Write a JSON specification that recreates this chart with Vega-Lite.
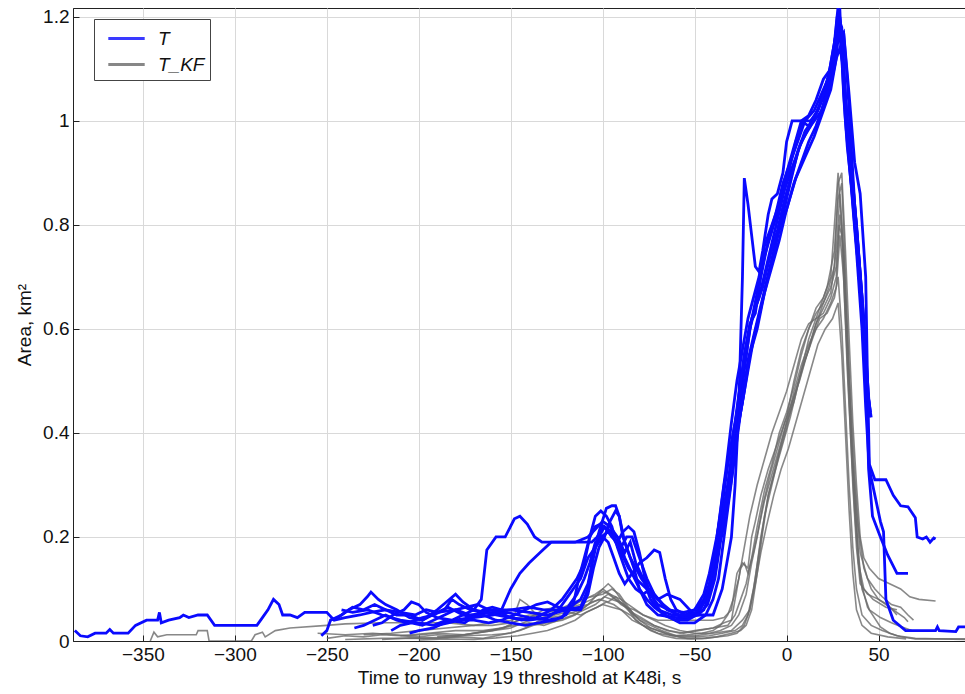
{
"$schema": "https://vega.github.io/schema/vega-lite/v6.json",
"width": 892, "height": 633,
"autosize": "none",
"padding": {"left": 73, "top": 8, "right": 0, "bottom": 53},
"background": "white",
"config": {
 "font": "Liberation Sans",
 "view": {"stroke": "#222", "strokeWidth": 1},
 "axis": {"labelFontSize": 19, "titleFontSize": 19, "labelColor": "#111", "titleColor": "#111", "titleFontWeight": "normal", "gridColor": "#d9d9d9", "gridWidth": 1, "domainColor": "#222", "tickColor": "#222", "tickSize": -6}
},
"datasets": {
"blue": [
{"s":1,"t":-387,"a":0.02},{"s":1,"t":-384,"a":0.01},{"s":1,"t":-380,"a":0.008},{"s":1,"t":-376,"a":0.015},{"s":1,"t":-370,"a":0.015},{"s":1,"t":-368,"a":0.022},{"s":1,"t":-366,"a":0.015},{"s":1,"t":-358,"a":0.015},{"s":1,"t":-354,"a":0.03},{"s":1,"t":-348,"a":0.04},{"s":1,"t":-342,"a":0.04},{"s":1,"t":-341,"a":0.055},{"s":1,"t":-340,"a":0.035},{"s":1,"t":-336,"a":0.04},{"s":1,"t":-330,"a":0.045},{"s":1,"t":-328,"a":0.05},{"s":1,"t":-325,"a":0.045},{"s":1,"t":-320,"a":0.05},{"s":1,"t":-315,"a":0.05},{"s":1,"t":-311,"a":0.03},{"s":1,"t":-288,"a":0.03},{"s":1,"t":-285,"a":0.045},{"s":1,"t":-282,"a":0.06},{"s":1,"t":-279,"a":0.08},{"s":1,"t":-276,"a":0.07},{"s":1,"t":-274,"a":0.05},{"s":1,"t":-270,"a":0.05},{"s":1,"t":-266,"a":0.045},{"s":1,"t":-262,"a":0.055},{"s":1,"t":-250,"a":0.055},{"s":1,"t":-246,"a":0.04},{"s":1,"t":-240,"a":0.045},{"s":1,"t":-232,"a":0.05},{"s":1,"t":-226,"a":0.055},{"s":1,"t":-218,"a":0.06},{"s":1,"t":-212,"a":0.05},{"s":1,"t":-205,"a":0.05},{"s":1,"t":-198,"a":0.04},{"s":1,"t":-190,"a":0.055},{"s":1,"t":-180,"a":0.06},{"s":1,"t":-172,"a":0.05},{"s":1,"t":-160,"a":0.055},{"s":1,"t":-150,"a":0.06},{"s":1,"t":-140,"a":0.055},{"s":1,"t":-130,"a":0.05},{"s":1,"t":-120,"a":0.06},{"s":1,"t":-112,"a":0.065},{"s":1,"t":-108,"a":0.1},{"s":1,"t":-105,"a":0.17},{"s":1,"t":-102,"a":0.2},{"s":1,"t":-99,"a":0.22},{"s":1,"t":-95,"a":0.21},{"s":1,"t":-92,"a":0.2},{"s":1,"t":-88,"a":0.16},{"s":1,"t":-84,"a":0.13},{"s":1,"t":-80,"a":0.1},{"s":1,"t":-76,"a":0.07},{"s":1,"t":-70,"a":0.05},{"s":1,"t":-60,"a":0.045},{"s":1,"t":-52,"a":0.045},{"s":1,"t":-46,"a":0.07},{"s":1,"t":-42,"a":0.1},{"s":1,"t":-38,"a":0.16},{"s":1,"t":-35,"a":0.22},{"s":1,"t":-32,"a":0.3},{"s":1,"t":-29,"a":0.37},{"s":1,"t":-26,"a":0.43},{"s":1,"t":-23,"a":0.52},{"s":1,"t":-20,"a":0.6},{"s":1,"t":-16,"a":0.67},{"s":1,"t":-12,"a":0.74},{"s":1,"t":-7,"a":0.8},{"s":1,"t":-2,"a":0.86},{"s":1,"t":3,"a":0.91},{"s":1,"t":8,"a":0.96},{"s":1,"t":13,"a":0.99},{"s":1,"t":18,"a":1.03},{"s":1,"t":23,"a":1.09},{"s":1,"t":26,"a":1.15},{"s":1,"t":28,"a":1.22},{"s":1,"t":29.5,"a":1.18},{"s":1,"t":31,"a":1.05},{"s":1,"t":33,"a":0.95},{"s":1,"t":36,"a":0.85},{"s":1,"t":39,"a":0.72},{"s":1,"t":42,"a":0.58},{"s":1,"t":44,"a":0.48},{"s":1,"t":46,"a":0.43},
{"s":2,"t":-253,"a":0.01},{"s":2,"t":-250,"a":0.02},{"s":2,"t":-248,"a":0.04},{"s":2,"t":-244,"a":0.045},{"s":2,"t":-238,"a":0.06},{"s":2,"t":-232,"a":0.07},{"s":2,"t":-228,"a":0.085},{"s":2,"t":-226,"a":0.094},{"s":2,"t":-222,"a":0.08},{"s":2,"t":-218,"a":0.07},{"s":2,"t":-212,"a":0.06},{"s":2,"t":-205,"a":0.045},{"s":2,"t":-198,"a":0.04},{"s":2,"t":-190,"a":0.06},{"s":2,"t":-185,"a":0.075},{"s":2,"t":-180,"a":0.09},{"s":2,"t":-176,"a":0.075},{"s":2,"t":-170,"a":0.06},{"s":2,"t":-166,"a":0.08},{"s":2,"t":-163,"a":0.175},{"s":2,"t":-158,"a":0.2},{"s":2,"t":-153,"a":0.2},{"s":2,"t":-148,"a":0.235},{"s":2,"t":-145,"a":0.24},{"s":2,"t":-141,"a":0.225},{"s":2,"t":-137,"a":0.2},{"s":2,"t":-133,"a":0.19},{"s":2,"t":-125,"a":0.19},{"s":2,"t":-115,"a":0.19},{"s":2,"t":-108,"a":0.2},{"s":2,"t":-104,"a":0.215},{"s":2,"t":-100,"a":0.23},{"s":2,"t":-96,"a":0.22},{"s":2,"t":-92,"a":0.2},{"s":2,"t":-88,"a":0.17},{"s":2,"t":-85,"a":0.19},{"s":2,"t":-82,"a":0.15},{"s":2,"t":-78,"a":0.12},{"s":2,"t":-74,"a":0.08},{"s":2,"t":-70,"a":0.06},{"s":2,"t":-62,"a":0.05},{"s":2,"t":-55,"a":0.05},{"s":2,"t":-50,"a":0.06},{"s":2,"t":-45,"a":0.09},{"s":2,"t":-42,"a":0.13},{"s":2,"t":-38,"a":0.2},{"s":2,"t":-35,"a":0.26},{"s":2,"t":-32,"a":0.34},{"s":2,"t":-29,"a":0.4},{"s":2,"t":-26,"a":0.46},{"s":2,"t":-23,"a":0.55},{"s":2,"t":-20,"a":0.61},{"s":2,"t":-17,"a":0.63},{"s":2,"t":-14,"a":0.7},{"s":2,"t":-10,"a":0.77},{"s":2,"t":-6,"a":0.82},{"s":2,"t":-2,"a":0.88},{"s":2,"t":2,"a":0.92},{"s":2,"t":6,"a":0.96},{"s":2,"t":10,"a":1.0},{"s":2,"t":15,"a":1.02},{"s":2,"t":20,"a":1.06},{"s":2,"t":25,"a":1.1},{"s":2,"t":28,"a":1.17},{"s":2,"t":31,"a":1.17},{"s":2,"t":34,"a":1.05},{"s":2,"t":37,"a":0.92},{"s":2,"t":40,"a":0.86},{"s":2,"t":43,"a":0.7},{"s":2,"t":44,"a":0.5},{"s":2,"t":45,"a":0.34},{"s":2,"t":48,"a":0.31},{"s":2,"t":54,"a":0.31},{"s":2,"t":58,"a":0.28},{"s":2,"t":62,"a":0.26},{"s":2,"t":66,"a":0.258},{"s":2,"t":70,"a":0.237},{"s":2,"t":71,"a":0.2},{"s":2,"t":74,"a":0.196},{"s":2,"t":76,"a":0.2},{"s":2,"t":78,"a":0.19},{"s":2,"t":80,"a":0.198},{"s":2,"t":81,"a":0.196},
{"s":3,"t":-242,"a":0.06},{"s":3,"t":-236,"a":0.055},{"s":3,"t":-228,"a":0.06},{"s":3,"t":-220,"a":0.05},{"s":3,"t":-210,"a":0.04},{"s":3,"t":-200,"a":0.035},{"s":3,"t":-192,"a":0.03},{"s":3,"t":-185,"a":0.04},{"s":3,"t":-175,"a":0.035},{"s":3,"t":-165,"a":0.06},{"s":3,"t":-160,"a":0.065},{"s":3,"t":-155,"a":0.06},{"s":3,"t":-150,"a":0.1},{"s":3,"t":-145,"a":0.13},{"s":3,"t":-140,"a":0.15},{"s":3,"t":-134,"a":0.17},{"s":3,"t":-128,"a":0.19},{"s":3,"t":-120,"a":0.19},{"s":3,"t":-112,"a":0.19},{"s":3,"t":-106,"a":0.19},{"s":3,"t":-103,"a":0.2},{"s":3,"t":-100,"a":0.22},{"s":3,"t":-96,"a":0.21},{"s":3,"t":-90,"a":0.17},{"s":3,"t":-86,"a":0.14},{"s":3,"t":-82,"a":0.12},{"s":3,"t":-76,"a":0.1},{"s":3,"t":-70,"a":0.08},{"s":3,"t":-65,"a":0.09},{"s":3,"t":-58,"a":0.08},{"s":3,"t":-50,"a":0.05},{"s":3,"t":-40,"a":0.05},{"s":3,"t":-35,"a":0.1},{"s":3,"t":-30,"a":0.2},{"s":3,"t":-28,"a":0.3},{"s":3,"t":-26,"a":0.45},{"s":3,"t":-24,"a":0.7},{"s":3,"t":-23,"a":0.89},{"s":3,"t":-21,"a":0.84},{"s":3,"t":-19,"a":0.78},{"s":3,"t":-17,"a":0.72},{"s":3,"t":-15,"a":0.71},{"s":3,"t":-13,"a":0.75},{"s":3,"t":-10,"a":0.82},{"s":3,"t":-8,"a":0.85},{"s":3,"t":-5,"a":0.86},{"s":3,"t":-2,"a":0.9},{"s":3,"t":0,"a":0.96},{"s":3,"t":3,"a":1.0},{"s":3,"t":8,"a":1.0},{"s":3,"t":12,"a":0.99},{"s":3,"t":17,"a":1.02},{"s":3,"t":22,"a":1.07},{"s":3,"t":26,"a":1.15},{"s":3,"t":28,"a":1.19},{"s":3,"t":30,"a":1.13},{"s":3,"t":33,"a":1.0},{"s":3,"t":36,"a":0.87},{"s":3,"t":39,"a":0.74},{"s":3,"t":42,"a":0.6},{"s":3,"t":44,"a":0.45},{"s":3,"t":45,"a":0.43},
{"s":4,"t":-248,"a":0.04},{"s":4,"t":-242,"a":0.05},{"s":4,"t":-236,"a":0.065},{"s":4,"t":-230,"a":0.06},{"s":4,"t":-224,"a":0.07},{"s":4,"t":-218,"a":0.06},{"s":4,"t":-210,"a":0.055},{"s":4,"t":-202,"a":0.05},{"s":4,"t":-196,"a":0.06},{"s":4,"t":-190,"a":0.055},{"s":4,"t":-184,"a":0.065},{"s":4,"t":-176,"a":0.05},{"s":4,"t":-170,"a":0.045},{"s":4,"t":-160,"a":0.05},{"s":4,"t":-152,"a":0.055},{"s":4,"t":-146,"a":0.05},{"s":4,"t":-140,"a":0.045},{"s":4,"t":-130,"a":0.04},{"s":4,"t":-122,"a":0.045},{"s":4,"t":-118,"a":0.07},{"s":4,"t":-114,"a":0.09},{"s":4,"t":-110,"a":0.12},{"s":4,"t":-107,"a":0.15},{"s":4,"t":-104,"a":0.19},{"s":4,"t":-101,"a":0.2},{"s":4,"t":-97,"a":0.21},{"s":4,"t":-94,"a":0.2},{"s":4,"t":-90,"a":0.18},{"s":4,"t":-87,"a":0.2},{"s":4,"t":-84,"a":0.2},{"s":4,"t":-80,"a":0.16},{"s":4,"t":-76,"a":0.12},{"s":4,"t":-72,"a":0.09},{"s":4,"t":-67,"a":0.07},{"s":4,"t":-60,"a":0.05},{"s":4,"t":-55,"a":0.045},{"s":4,"t":-48,"a":0.05},{"s":4,"t":-43,"a":0.07},{"s":4,"t":-39,"a":0.12},{"s":4,"t":-36,"a":0.19},{"s":4,"t":-33,"a":0.24},{"s":4,"t":-30,"a":0.31},{"s":4,"t":-27,"a":0.4},{"s":4,"t":-24,"a":0.46},{"s":4,"t":-21,"a":0.54},{"s":4,"t":-17,"a":0.6},{"s":4,"t":-13,"a":0.66},{"s":4,"t":-9,"a":0.72},{"s":4,"t":-5,"a":0.78},{"s":4,"t":0,"a":0.83},{"s":4,"t":5,"a":0.89},{"s":4,"t":10,"a":0.93},{"s":4,"t":15,"a":0.97},{"s":4,"t":20,"a":1.02},{"s":4,"t":24,"a":1.06},{"s":4,"t":27,"a":1.12},{"s":4,"t":29,"a":1.2},{"s":4,"t":31,"a":1.1},{"s":4,"t":33,"a":0.98},{"s":4,"t":35,"a":0.9},{"s":4,"t":38,"a":0.8},{"s":4,"t":41,"a":0.66},{"s":4,"t":43,"a":0.55},{"s":4,"t":44.6,"a":0.33},{"s":4,"t":46.7,"a":0.24},{"s":4,"t":51,"a":0.2},{"s":4,"t":55,"a":0.165},{"s":4,"t":60,"a":0.13},{"s":4,"t":66,"a":0.13},
{"s":5,"t":-235,"a":0.025},{"s":5,"t":-230,"a":0.03},{"s":5,"t":-224,"a":0.04},{"s":5,"t":-218,"a":0.05},{"s":5,"t":-212,"a":0.04},{"s":5,"t":-206,"a":0.035},{"s":5,"t":-198,"a":0.045},{"s":5,"t":-192,"a":0.05},{"s":5,"t":-186,"a":0.06},{"s":5,"t":-182,"a":0.08},{"s":5,"t":-178,"a":0.07},{"s":5,"t":-172,"a":0.06},{"s":5,"t":-166,"a":0.055},{"s":5,"t":-160,"a":0.06},{"s":5,"t":-150,"a":0.06},{"s":5,"t":-140,"a":0.065},{"s":5,"t":-132,"a":0.06},{"s":5,"t":-125,"a":0.06},{"s":5,"t":-118,"a":0.065},{"s":5,"t":-112,"a":0.08},{"s":5,"t":-108,"a":0.11},{"s":5,"t":-105,"a":0.16},{"s":5,"t":-102,"a":0.21},{"s":5,"t":-98,"a":0.255},{"s":5,"t":-95,"a":0.26},{"s":5,"t":-93,"a":0.26},{"s":5,"t":-91,"a":0.24},{"s":5,"t":-89,"a":0.2},{"s":5,"t":-86,"a":0.17},{"s":5,"t":-83,"a":0.14},{"s":5,"t":-80,"a":0.1},{"s":5,"t":-76,"a":0.08},{"s":5,"t":-72,"a":0.065},{"s":5,"t":-66,"a":0.05},{"s":5,"t":-58,"a":0.035},{"s":5,"t":-50,"a":0.035},{"s":5,"t":-44,"a":0.05},{"s":5,"t":-40,"a":0.08},{"s":5,"t":-37,"a":0.12},{"s":5,"t":-34,"a":0.2},{"s":5,"t":-31,"a":0.28},{"s":5,"t":-28,"a":0.36},{"s":5,"t":-25,"a":0.44},{"s":5,"t":-22,"a":0.5},{"s":5,"t":-18,"a":0.58},{"s":5,"t":-14,"a":0.64},{"s":5,"t":-10,"a":0.7},{"s":5,"t":-6,"a":0.76},{"s":5,"t":-2,"a":0.82},{"s":5,"t":2,"a":0.88},{"s":5,"t":6,"a":0.94},{"s":5,"t":10,"a":0.98},{"s":5,"t":14,"a":1.0},{"s":5,"t":18,"a":1.03},{"s":5,"t":22,"a":1.06},{"s":5,"t":25,"a":1.1},{"s":5,"t":27.5,"a":1.2},{"s":5,"t":29,"a":1.21},{"s":5,"t":30,"a":1.12},{"s":5,"t":32,"a":1.0},{"s":5,"t":35,"a":0.88},{"s":5,"t":38,"a":0.75},{"s":5,"t":41,"a":0.6},{"s":5,"t":43,"a":0.45},{"s":5,"t":45,"a":0.33},{"s":5,"t":48,"a":0.28},{"s":5,"t":51,"a":0.23},{"s":5,"t":52.7,"a":0.21},{"s":5,"t":54,"a":0.08},{"s":5,"t":58,"a":0.04},{"s":5,"t":64.7,"a":0.02},{"s":5,"t":81,"a":0.02},{"s":5,"t":82,"a":0.027},{"s":5,"t":83,"a":0.02},{"s":5,"t":92,"a":0.018},{"s":5,"t":93.5,"a":0.027},{"s":5,"t":97,"a":0.027},
{"s":6,"t":-225,"a":0.03},{"s":6,"t":-220,"a":0.035},{"s":6,"t":-214,"a":0.05},{"s":6,"t":-208,"a":0.06},{"s":6,"t":-204,"a":0.075},{"s":6,"t":-200,"a":0.07},{"s":6,"t":-196,"a":0.055},{"s":6,"t":-190,"a":0.045},{"s":6,"t":-182,"a":0.04},{"s":6,"t":-176,"a":0.05},{"s":6,"t":-170,"a":0.06},{"s":6,"t":-164,"a":0.055},{"s":6,"t":-158,"a":0.05},{"s":6,"t":-150,"a":0.045},{"s":6,"t":-144,"a":0.04},{"s":6,"t":-136,"a":0.045},{"s":6,"t":-128,"a":0.06},{"s":6,"t":-122,"a":0.08},{"s":6,"t":-118,"a":0.1},{"s":6,"t":-114,"a":0.12},{"s":6,"t":-110,"a":0.15},{"s":6,"t":-107,"a":0.2},{"s":6,"t":-104,"a":0.22},{"s":6,"t":-101,"a":0.225},{"s":6,"t":-98,"a":0.215},{"s":6,"t":-95,"a":0.2},{"s":6,"t":-92,"a":0.19},{"s":6,"t":-89,"a":0.21},{"s":6,"t":-86,"a":0.22},{"s":6,"t":-83,"a":0.21},{"s":6,"t":-80,"a":0.17},{"s":6,"t":-77,"a":0.12},{"s":6,"t":-74,"a":0.09},{"s":6,"t":-70,"a":0.07},{"s":6,"t":-64,"a":0.06},{"s":6,"t":-56,"a":0.055},{"s":6,"t":-50,"a":0.06},{"s":6,"t":-45,"a":0.08},{"s":6,"t":-42,"a":0.11},{"s":6,"t":-39,"a":0.17},{"s":6,"t":-36,"a":0.25},{"s":6,"t":-33,"a":0.33},{"s":6,"t":-30,"a":0.42},{"s":6,"t":-27,"a":0.5},{"s":6,"t":-24,"a":0.56},{"s":6,"t":-21,"a":0.62},{"s":6,"t":-18,"a":0.66},{"s":6,"t":-15,"a":0.7},{"s":6,"t":-12,"a":0.76},{"s":6,"t":-8,"a":0.8},{"s":6,"t":-4,"a":0.84},{"s":6,"t":0,"a":0.9},{"s":6,"t":4,"a":0.95},{"s":6,"t":8,"a":1.0},{"s":6,"t":12,"a":1.01},{"s":6,"t":16,"a":1.04},{"s":6,"t":20,"a":1.08},{"s":6,"t":24,"a":1.1},{"s":6,"t":27,"a":1.15},{"s":6,"t":29,"a":1.16},{"s":6,"t":31,"a":1.17},{"s":6,"t":33,"a":1.08},{"s":6,"t":35,"a":0.96},{"s":6,"t":37,"a":0.84},{"s":6,"t":40,"a":0.7},{"s":6,"t":42,"a":0.58},{"s":6,"t":44,"a":0.48},{"s":6,"t":45.6,"a":0.44},
{"s":7,"t":-215,"a":0.02},{"s":7,"t":-210,"a":0.03},{"s":7,"t":-204,"a":0.035},{"s":7,"t":-198,"a":0.03},{"s":7,"t":-192,"a":0.04},{"s":7,"t":-186,"a":0.05},{"s":7,"t":-180,"a":0.06},{"s":7,"t":-174,"a":0.065},{"s":7,"t":-168,"a":0.07},{"s":7,"t":-162,"a":0.06},{"s":7,"t":-156,"a":0.055},{"s":7,"t":-150,"a":0.045},{"s":7,"t":-140,"a":0.04},{"s":7,"t":-130,"a":0.045},{"s":7,"t":-124,"a":0.06},{"s":7,"t":-120,"a":0.08},{"s":7,"t":-116,"a":0.1},{"s":7,"t":-112,"a":0.12},{"s":7,"t":-108,"a":0.16},{"s":7,"t":-104,"a":0.18},{"s":7,"t":-100,"a":0.2},{"s":7,"t":-97,"a":0.19},{"s":7,"t":-94,"a":0.16},{"s":7,"t":-91,"a":0.13},{"s":7,"t":-88,"a":0.11},{"s":7,"t":-84,"a":0.13},{"s":7,"t":-80,"a":0.15},{"s":7,"t":-76,"a":0.16},{"s":7,"t":-72,"a":0.175},{"s":7,"t":-69,"a":0.17},{"s":7,"t":-66,"a":0.12},{"s":7,"t":-63,"a":0.08},{"s":7,"t":-60,"a":0.06},{"s":7,"t":-55,"a":0.05},{"s":7,"t":-48,"a":0.055},{"s":7,"t":-43,"a":0.09},{"s":7,"t":-40,"a":0.14},{"s":7,"t":-37,"a":0.22},{"s":7,"t":-34,"a":0.3},{"s":7,"t":-31,"a":0.36},{"s":7,"t":-28,"a":0.42},{"s":7,"t":-25,"a":0.5},{"s":7,"t":-22,"a":0.55},{"s":7,"t":-19,"a":0.62},{"s":7,"t":-15,"a":0.66},{"s":7,"t":-11,"a":0.72},{"s":7,"t":-7,"a":0.78},{"s":7,"t":-3,"a":0.84},{"s":7,"t":1,"a":0.9},{"s":7,"t":5,"a":0.96},{"s":7,"t":9,"a":1.0},{"s":7,"t":13,"a":1.0},{"s":7,"t":17,"a":1.02},{"s":7,"t":21,"a":1.06},{"s":7,"t":25,"a":1.12},{"s":7,"t":28,"a":1.2},{"s":7,"t":30,"a":1.18},{"s":7,"t":32,"a":1.04},{"s":7,"t":35,"a":0.92},{"s":7,"t":38,"a":0.8},{"s":7,"t":41,"a":0.66},{"s":7,"t":43,"a":0.55},{"s":7,"t":45,"a":0.45},
{"s":8,"t":-205,"a":0.015},{"s":8,"t":-200,"a":0.02},{"s":8,"t":-192,"a":0.025},{"s":8,"t":-186,"a":0.035},{"s":8,"t":-180,"a":0.04},{"s":8,"t":-172,"a":0.045},{"s":8,"t":-165,"a":0.05},{"s":8,"t":-158,"a":0.04},{"s":8,"t":-150,"a":0.035},{"s":8,"t":-142,"a":0.03},{"s":8,"t":-135,"a":0.035},{"s":8,"t":-126,"a":0.04},{"s":8,"t":-120,"a":0.05},{"s":8,"t":-116,"a":0.07},{"s":8,"t":-113,"a":0.12},{"s":8,"t":-110,"a":0.16},{"s":8,"t":-107,"a":0.2},{"s":8,"t":-104,"a":0.24},{"s":8,"t":-101,"a":0.25},{"s":8,"t":-98,"a":0.24},{"s":8,"t":-95,"a":0.22},{"s":8,"t":-92,"a":0.18},{"s":8,"t":-89,"a":0.15},{"s":8,"t":-86,"a":0.12},{"s":8,"t":-82,"a":0.1},{"s":8,"t":-78,"a":0.09},{"s":8,"t":-74,"a":0.1},{"s":8,"t":-70,"a":0.08},{"s":8,"t":-65,"a":0.06},{"s":8,"t":-58,"a":0.05},{"s":8,"t":-52,"a":0.05},{"s":8,"t":-47,"a":0.06},{"s":8,"t":-44,"a":0.08},{"s":8,"t":-41,"a":0.12},{"s":8,"t":-38,"a":0.18},{"s":8,"t":-35,"a":0.24},{"s":8,"t":-32,"a":0.3},{"s":8,"t":-29,"a":0.38},{"s":8,"t":-26,"a":0.47},{"s":8,"t":-23,"a":0.55},{"s":8,"t":-20,"a":0.6},{"s":8,"t":-17,"a":0.64},{"s":8,"t":-13,"a":0.68},{"s":8,"t":-9,"a":0.74},{"s":8,"t":-5,"a":0.79},{"s":8,"t":-1,"a":0.85},{"s":8,"t":3,"a":0.9},{"s":8,"t":7,"a":0.95},{"s":8,"t":11,"a":0.98},{"s":8,"t":15,"a":1.0},{"s":8,"t":19,"a":1.02},{"s":8,"t":23,"a":1.07},{"s":8,"t":26,"a":1.12},{"s":8,"t":28,"a":1.17},{"s":8,"t":30,"a":1.15},{"s":8,"t":32,"a":1.02},{"s":8,"t":34,"a":0.93},{"s":8,"t":37,"a":0.8},{"s":8,"t":40,"a":0.68},{"s":8,"t":42,"a":0.56},{"s":8,"t":44,"a":0.46},{"s":8,"t":45,"a":0.43},
{"s":9,"t":-190,"a":0.03},{"s":9,"t":-184,"a":0.035},{"s":9,"t":-178,"a":0.04},{"s":9,"t":-170,"a":0.04},{"s":9,"t":-162,"a":0.035},{"s":9,"t":-155,"a":0.04},{"s":9,"t":-148,"a":0.05},{"s":9,"t":-142,"a":0.06},{"s":9,"t":-136,"a":0.07},{"s":9,"t":-130,"a":0.075},{"s":9,"t":-124,"a":0.065},{"s":9,"t":-118,"a":0.06},{"s":9,"t":-112,"a":0.06},{"s":9,"t":-108,"a":0.09},{"s":9,"t":-105,"a":0.14},{"s":9,"t":-102,"a":0.18},{"s":9,"t":-99,"a":0.2},{"s":9,"t":-96,"a":0.23},{"s":9,"t":-93,"a":0.25},{"s":9,"t":-91,"a":0.24},{"s":9,"t":-88,"a":0.19},{"s":9,"t":-85,"a":0.16},{"s":9,"t":-82,"a":0.14},{"s":9,"t":-79,"a":0.12},{"s":9,"t":-75,"a":0.1},{"s":9,"t":-71,"a":0.07},{"s":9,"t":-67,"a":0.05},{"s":9,"t":-60,"a":0.04},{"s":9,"t":-54,"a":0.04},{"s":9,"t":-49,"a":0.05},{"s":9,"t":-45,"a":0.06},{"s":9,"t":-41,"a":0.1},{"s":9,"t":-38,"a":0.15},{"s":9,"t":-35,"a":0.22},{"s":9,"t":-32,"a":0.28},{"s":9,"t":-29,"a":0.35},{"s":9,"t":-26,"a":0.42},{"s":9,"t":-23,"a":0.48},{"s":9,"t":-20,"a":0.55},{"s":9,"t":-16,"a":0.6},{"s":9,"t":-12,"a":0.67},{"s":9,"t":-8,"a":0.72},{"s":9,"t":-4,"a":0.77},{"s":9,"t":0,"a":0.83},{"s":9,"t":4,"a":0.88},{"s":9,"t":8,"a":0.92},{"s":9,"t":12,"a":0.96},{"s":9,"t":16,"a":0.99},{"s":9,"t":20,"a":1.03},{"s":9,"t":24,"a":1.07},{"s":9,"t":27,"a":1.12},{"s":9,"t":29,"a":1.14},{"s":9,"t":31,"a":1.1},{"s":9,"t":33,"a":1.0},{"s":9,"t":36,"a":0.88},{"s":9,"t":39,"a":0.75},{"s":9,"t":42,"a":0.62},{"s":9,"t":44,"a":0.5},{"s":9,"t":45,"a":0.44}
],
"gray": [
{"s":1,"t":-346,"a":0},{"s":1,"t":-344,"a":0.017},{"s":1,"t":-342,"a":0.008},{"s":1,"t":-337,"a":0.012},{"s":1,"t":-321,"a":0.012},{"s":1,"t":-320,"a":0.02},{"s":1,"t":-315,"a":0.02},{"s":1,"t":-314,"a":0},{"s":1,"t":-291,"a":0},{"s":1,"t":-289,"a":0.012},{"s":1,"t":-285,"a":0.017},{"s":1,"t":-283.5,"a":0.008},{"s":1,"t":-278,"a":0.02},{"s":1,"t":-270,"a":0.025},{"s":1,"t":-250,"a":0.03},{"s":1,"t":-240,"a":0.033},{"s":1,"t":-220,"a":0.035},{"s":1,"t":-200,"a":0.035},{"s":1,"t":-185,"a":0.035},{"s":1,"t":-170,"a":0.03},{"s":1,"t":-160,"a":0.035},{"s":1,"t":-150,"a":0.04},{"s":1,"t":-140,"a":0.05},{"s":1,"t":-130,"a":0.05},{"s":1,"t":-120,"a":0.06},{"s":1,"t":-110,"a":0.08},{"s":1,"t":-104,"a":0.09},{"s":1,"t":-100,"a":0.1},{"s":1,"t":-96,"a":0.09},{"s":1,"t":-90,"a":0.08},{"s":1,"t":-84,"a":0.065},{"s":1,"t":-78,"a":0.05},{"s":1,"t":-70,"a":0.04},{"s":1,"t":-60,"a":0.04},{"s":1,"t":-50,"a":0.04},{"s":1,"t":-40,"a":0.04},{"s":1,"t":-34,"a":0.045},{"s":1,"t":-30,"a":0.06},{"s":1,"t":-27,"a":0.13},{"s":1,"t":-24,"a":0.15},{"s":1,"t":-21,"a":0.14},{"s":1,"t":-19,"a":0.2},{"s":1,"t":-17,"a":0.23},{"s":1,"t":-14,"a":0.28},{"s":1,"t":-10,"a":0.33},{"s":1,"t":-5,"a":0.38},{"s":1,"t":0,"a":0.43},{"s":1,"t":4,"a":0.5},{"s":1,"t":8,"a":0.56},{"s":1,"t":12,"a":0.6},{"s":1,"t":16,"a":0.64},{"s":1,"t":20,"a":0.66},{"s":1,"t":24,"a":0.7},{"s":1,"t":28,"a":0.9},{"s":1,"t":30,"a":0.8},{"s":1,"t":32,"a":0.65},{"s":1,"t":34,"a":0.5},{"s":1,"t":36,"a":0.35},{"s":1,"t":38,"a":0.25},{"s":1,"t":40,"a":0.17},{"s":1,"t":44,"a":0.12},{"s":1,"t":48,"a":0.1},{"s":1,"t":52,"a":0.085},{"s":1,"t":57,"a":0.07},{"s":1,"t":62,"a":0.065},{"s":1,"t":66,"a":0.05},{"s":1,"t":69,"a":0.04},
{"s":2,"t":-255,"a":0.015},{"s":2,"t":-240,"a":0.012},{"s":2,"t":-225,"a":0.015},{"s":2,"t":-205,"a":0.01},{"s":2,"t":-190,"a":0.015},{"s":2,"t":-175,"a":0.012},{"s":2,"t":-160,"a":0.02},{"s":2,"t":-150,"a":0.025},{"s":2,"t":-140,"a":0.04},{"s":2,"t":-130,"a":0.045},{"s":2,"t":-122,"a":0.06},{"s":2,"t":-112,"a":0.07},{"s":2,"t":-106,"a":0.08},{"s":2,"t":-100,"a":0.095},{"s":2,"t":-96,"a":0.09},{"s":2,"t":-90,"a":0.07},{"s":2,"t":-85,"a":0.06},{"s":2,"t":-80,"a":0.04},{"s":2,"t":-74,"a":0.03},{"s":2,"t":-68,"a":0.02},{"s":2,"t":-60,"a":0.01},{"s":2,"t":-50,"a":0.01},{"s":2,"t":-40,"a":0.015},{"s":2,"t":-30,"a":0.02},{"s":2,"t":-24,"a":0.04},{"s":2,"t":-20,"a":0.06},{"s":2,"t":-17,"a":0.12},{"s":2,"t":-14,"a":0.2},{"s":2,"t":-10,"a":0.28},{"s":2,"t":-5,"a":0.35},{"s":2,"t":0,"a":0.42},{"s":2,"t":4,"a":0.46},{"s":2,"t":8,"a":0.52},{"s":2,"t":12,"a":0.58},{"s":2,"t":17,"a":0.63},{"s":2,"t":22,"a":0.68},{"s":2,"t":26,"a":0.75},{"s":2,"t":28,"a":0.85},{"s":2,"t":30,"a":0.88},{"s":2,"t":32,"a":0.7},{"s":2,"t":34,"a":0.5},{"s":2,"t":36,"a":0.33},{"s":2,"t":38,"a":0.22},{"s":2,"t":40,"a":0.12},{"s":2,"t":44,"a":0.065},{"s":2,"t":51,"a":0.027},{"s":2,"t":56,"a":0.015},{"s":2,"t":62,"a":0.008},{"s":2,"t":70,"a":0.004},{"s":2,"t":97,"a":0.004},
{"s":3,"t":-250,"a":0.005},{"s":3,"t":-240,"a":0.01},{"s":3,"t":-230,"a":0.008},{"s":3,"t":-220,"a":0.012},{"s":3,"t":-210,"a":0.01},{"s":3,"t":-200,"a":0.008},{"s":3,"t":-190,"a":0.012},{"s":3,"t":-180,"a":0.01},{"s":3,"t":-170,"a":0.015},{"s":3,"t":-160,"a":0.02},{"s":3,"t":-150,"a":0.03},{"s":3,"t":-145,"a":0.08},{"s":3,"t":-141,"a":0.07},{"s":3,"t":-136,"a":0.05},{"s":3,"t":-130,"a":0.055},{"s":3,"t":-124,"a":0.06},{"s":3,"t":-118,"a":0.07},{"s":3,"t":-112,"a":0.08},{"s":3,"t":-106,"a":0.085},{"s":3,"t":-100,"a":0.09},{"s":3,"t":-95,"a":0.1},{"s":3,"t":-91,"a":0.09},{"s":3,"t":-87,"a":0.07},{"s":3,"t":-83,"a":0.05},{"s":3,"t":-78,"a":0.04},{"s":3,"t":-72,"a":0.03},{"s":3,"t":-65,"a":0.02},{"s":3,"t":-58,"a":0.015},{"s":3,"t":-50,"a":0.02},{"s":3,"t":-40,"a":0.025},{"s":3,"t":-32,"a":0.03},{"s":3,"t":-28,"a":0.05},{"s":3,"t":-25,"a":0.08},{"s":3,"t":-22,"a":0.11},{"s":3,"t":-19,"a":0.16},{"s":3,"t":-16,"a":0.22},{"s":3,"t":-12,"a":0.29},{"s":3,"t":-8,"a":0.34},{"s":3,"t":-4,"a":0.4},{"s":3,"t":0,"a":0.44},{"s":3,"t":4,"a":0.49},{"s":3,"t":8,"a":0.55},{"s":3,"t":12,"a":0.6},{"s":3,"t":16,"a":0.63},{"s":3,"t":20,"a":0.65},{"s":3,"t":24,"a":0.68},{"s":3,"t":27,"a":0.72},{"s":3,"t":28.5,"a":0.8},{"s":3,"t":30,"a":0.78},{"s":3,"t":32,"a":0.62},{"s":3,"t":34,"a":0.46},{"s":3,"t":36,"a":0.3},{"s":3,"t":38,"a":0.18},{"s":3,"t":40,"a":0.11},{"s":3,"t":44,"a":0.09},{"s":3,"t":50,"a":0.08},{"s":3,"t":58,"a":0.06},{"s":3,"t":64,"a":0.045},{"s":3,"t":66,"a":0.037},
{"s":4,"t":-240,"a":0.003},{"s":4,"t":-220,"a":0.005},{"s":4,"t":-200,"a":0.005},{"s":4,"t":-180,"a":0.008},{"s":4,"t":-165,"a":0.005},{"s":4,"t":-155,"a":0.012},{"s":4,"t":-145,"a":0.02},{"s":4,"t":-138,"a":0.03},{"s":4,"t":-130,"a":0.035},{"s":4,"t":-122,"a":0.04},{"s":4,"t":-115,"a":0.05},{"s":4,"t":-108,"a":0.07},{"s":4,"t":-102,"a":0.08},{"s":4,"t":-97,"a":0.075},{"s":4,"t":-93,"a":0.085},{"s":4,"t":-89,"a":0.07},{"s":4,"t":-85,"a":0.055},{"s":4,"t":-80,"a":0.04},{"s":4,"t":-74,"a":0.025},{"s":4,"t":-66,"a":0.015},{"s":4,"t":-58,"a":0.008},{"s":4,"t":-50,"a":0.008},{"s":4,"t":-42,"a":0.01},{"s":4,"t":-35,"a":0.015},{"s":4,"t":-28,"a":0.02},{"s":4,"t":-24,"a":0.03},{"s":4,"t":-21,"a":0.05},{"s":4,"t":-18,"a":0.1},{"s":4,"t":-15,"a":0.17},{"s":4,"t":-12,"a":0.24},{"s":4,"t":-8,"a":0.3},{"s":4,"t":-4,"a":0.36},{"s":4,"t":0,"a":0.41},{"s":4,"t":4,"a":0.47},{"s":4,"t":8,"a":0.52},{"s":4,"t":12,"a":0.56},{"s":4,"t":16,"a":0.61},{"s":4,"t":20,"a":0.64},{"s":4,"t":24,"a":0.67},{"s":4,"t":27,"a":0.75},{"s":4,"t":29,"a":0.86},{"s":4,"t":31,"a":0.74},{"s":4,"t":33,"a":0.55},{"s":4,"t":35,"a":0.4},{"s":4,"t":37,"a":0.28},{"s":4,"t":39,"a":0.17},{"s":4,"t":41,"a":0.1},{"s":4,"t":45,"a":0.06},{"s":4,"t":51,"a":0.045},{"s":4,"t":57,"a":0.035},{"s":4,"t":62,"a":0.028},{"s":4,"t":68,"a":0.02},
{"s":5,"t":-230,"a":0.012},{"s":5,"t":-215,"a":0.015},{"s":5,"t":-200,"a":0.02},{"s":5,"t":-185,"a":0.025},{"s":5,"t":-170,"a":0.03},{"s":5,"t":-160,"a":0.03},{"s":5,"t":-150,"a":0.035},{"s":5,"t":-140,"a":0.045},{"s":5,"t":-132,"a":0.06},{"s":5,"t":-125,"a":0.065},{"s":5,"t":-118,"a":0.055},{"s":5,"t":-112,"a":0.05},{"s":5,"t":-106,"a":0.06},{"s":5,"t":-100,"a":0.07},{"s":5,"t":-95,"a":0.065},{"s":5,"t":-90,"a":0.06},{"s":5,"t":-84,"a":0.04},{"s":5,"t":-78,"a":0.03},{"s":5,"t":-70,"a":0.02},{"s":5,"t":-62,"a":0.01},{"s":5,"t":-54,"a":0.005},{"s":5,"t":-46,"a":0.005},{"s":5,"t":-38,"a":0.008},{"s":5,"t":-30,"a":0.015},{"s":5,"t":-25,"a":0.02},{"s":5,"t":-22,"a":0.03},{"s":5,"t":-19,"a":0.06},{"s":5,"t":-16,"a":0.13},{"s":5,"t":-13,"a":0.21},{"s":5,"t":-10,"a":0.28},{"s":5,"t":-6,"a":0.33},{"s":5,"t":-2,"a":0.38},{"s":5,"t":2,"a":0.43},{"s":5,"t":6,"a":0.49},{"s":5,"t":10,"a":0.54},{"s":5,"t":14,"a":0.58},{"s":5,"t":18,"a":0.62},{"s":5,"t":22,"a":0.63},{"s":5,"t":26,"a":0.66},{"s":5,"t":28,"a":0.7},{"s":5,"t":30,"a":0.6},{"s":5,"t":32,"a":0.45},{"s":5,"t":34,"a":0.3},{"s":5,"t":36,"a":0.18},{"s":5,"t":38,"a":0.1},{"s":5,"t":41,"a":0.05},{"s":5,"t":46,"a":0.03},{"s":5,"t":52,"a":0.02},{"s":5,"t":60,"a":0.01},{"s":5,"t":70,"a":0.005},{"s":5,"t":97,"a":0.003},
{"s":6,"t":-220,"a":0.003},{"s":6,"t":-205,"a":0.006},{"s":6,"t":-190,"a":0.005},{"s":6,"t":-175,"a":0.01},{"s":6,"t":-160,"a":0.012},{"s":6,"t":-150,"a":0.015},{"s":6,"t":-142,"a":0.025},{"s":6,"t":-134,"a":0.04},{"s":6,"t":-126,"a":0.05},{"s":6,"t":-120,"a":0.055},{"s":6,"t":-114,"a":0.065},{"s":6,"t":-108,"a":0.07},{"s":6,"t":-104,"a":0.085},{"s":6,"t":-100,"a":0.1},{"s":6,"t":-97,"a":0.11},{"s":6,"t":-94,"a":0.1},{"s":6,"t":-90,"a":0.08},{"s":6,"t":-86,"a":0.06},{"s":6,"t":-82,"a":0.04},{"s":6,"t":-76,"a":0.025},{"s":6,"t":-70,"a":0.015},{"s":6,"t":-62,"a":0.01},{"s":6,"t":-54,"a":0.012},{"s":6,"t":-46,"a":0.015},{"s":6,"t":-40,"a":0.02},{"s":6,"t":-36,"a":0.03},{"s":6,"t":-32,"a":0.05},{"s":6,"t":-29,"a":0.08},{"s":6,"t":-26,"a":0.12},{"s":6,"t":-23,"a":0.18},{"s":6,"t":-20,"a":0.24},{"s":6,"t":-16,"a":0.3},{"s":6,"t":-12,"a":0.35},{"s":6,"t":-8,"a":0.4},{"s":6,"t":-4,"a":0.44},{"s":6,"t":0,"a":0.48},{"s":6,"t":4,"a":0.53},{"s":6,"t":8,"a":0.58},{"s":6,"t":12,"a":0.61},{"s":6,"t":16,"a":0.62},{"s":6,"t":20,"a":0.63},{"s":6,"t":24,"a":0.66},{"s":6,"t":27,"a":0.7},{"s":6,"t":29,"a":0.82},{"s":6,"t":31,"a":0.75},{"s":6,"t":33,"a":0.6},{"s":6,"t":35,"a":0.45},{"s":6,"t":37,"a":0.32},{"s":6,"t":39,"a":0.22},{"s":6,"t":42,"a":0.14},{"s":6,"t":46,"a":0.1},{"s":6,"t":50,"a":0.08},{"s":6,"t":55,"a":0.07},{"s":6,"t":60,"a":0.05},
{"s":7,"t":-210,"a":0.01},{"s":7,"t":-195,"a":0.015},{"s":7,"t":-180,"a":0.02},{"s":7,"t":-165,"a":0.02},{"s":7,"t":-155,"a":0.025},{"s":7,"t":-148,"a":0.03},{"s":7,"t":-140,"a":0.035},{"s":7,"t":-132,"a":0.03},{"s":7,"t":-124,"a":0.04},{"s":7,"t":-116,"a":0.05},{"s":7,"t":-110,"a":0.06},{"s":7,"t":-104,"a":0.07},{"s":7,"t":-99,"a":0.085},{"s":7,"t":-95,"a":0.08},{"s":7,"t":-91,"a":0.075},{"s":7,"t":-87,"a":0.065},{"s":7,"t":-83,"a":0.06},{"s":7,"t":-78,"a":0.05},{"s":7,"t":-72,"a":0.04},{"s":7,"t":-66,"a":0.03},{"s":7,"t":-58,"a":0.02},{"s":7,"t":-50,"a":0.015},{"s":7,"t":-42,"a":0.015},{"s":7,"t":-36,"a":0.02},{"s":7,"t":-30,"a":0.03},{"s":7,"t":-26,"a":0.05},{"s":7,"t":-22,"a":0.09},{"s":7,"t":-19,"a":0.15},{"s":7,"t":-16,"a":0.2},{"s":7,"t":-13,"a":0.26},{"s":7,"t":-9,"a":0.32},{"s":7,"t":-5,"a":0.37},{"s":7,"t":-1,"a":0.42},{"s":7,"t":3,"a":0.46},{"s":7,"t":7,"a":0.5},{"s":7,"t":11,"a":0.55},{"s":7,"t":15,"a":0.6},{"s":7,"t":19,"a":0.64},{"s":7,"t":23,"a":0.68},{"s":7,"t":26,"a":0.72},{"s":7,"t":28,"a":0.88},{"s":7,"t":30,"a":0.9},{"s":7,"t":32,"a":0.75},{"s":7,"t":34,"a":0.58},{"s":7,"t":36,"a":0.42},{"s":7,"t":38,"a":0.3},{"s":7,"t":40,"a":0.2},{"s":7,"t":42,"a":0.16},{"s":7,"t":45,"a":0.14},{"s":7,"t":50,"a":0.12},{"s":7,"t":56,"a":0.11},{"s":7,"t":62,"a":0.1},{"s":7,"t":67,"a":0.085},{"s":7,"t":72,"a":0.08},{"s":7,"t":81,"a":0.077},
{"s":8,"t":-200,"a":0.002},{"s":8,"t":-185,"a":0.004},{"s":8,"t":-170,"a":0.003},{"s":8,"t":-158,"a":0.006},{"s":8,"t":-146,"a":0.01},{"s":8,"t":-138,"a":0.015},{"s":8,"t":-130,"a":0.02},{"s":8,"t":-122,"a":0.03},{"s":8,"t":-115,"a":0.04},{"s":8,"t":-109,"a":0.055},{"s":8,"t":-103,"a":0.065},{"s":8,"t":-98,"a":0.075},{"s":8,"t":-94,"a":0.07},{"s":8,"t":-90,"a":0.06},{"s":8,"t":-85,"a":0.05},{"s":8,"t":-80,"a":0.035},{"s":8,"t":-74,"a":0.02},{"s":8,"t":-67,"a":0.01},{"s":8,"t":-60,"a":0.005},{"s":8,"t":-52,"a":0.004},{"s":8,"t":-44,"a":0.005},{"s":8,"t":-38,"a":0.008},{"s":8,"t":-32,"a":0.01},{"s":8,"t":-27,"a":0.015},{"s":8,"t":-23,"a":0.03},{"s":8,"t":-20,"a":0.06},{"s":8,"t":-17,"a":0.11},{"s":8,"t":-14,"a":0.17},{"s":8,"t":-11,"a":0.22},{"s":8,"t":-7,"a":0.28},{"s":8,"t":-3,"a":0.33},{"s":8,"t":1,"a":0.37},{"s":8,"t":5,"a":0.42},{"s":8,"t":9,"a":0.47},{"s":8,"t":13,"a":0.52},{"s":8,"t":17,"a":0.57},{"s":8,"t":21,"a":0.6},{"s":8,"t":25,"a":0.62},{"s":8,"t":28,"a":0.65},{"s":8,"t":30,"a":0.55},{"s":8,"t":32,"a":0.4},{"s":8,"t":34,"a":0.25},{"s":8,"t":36,"a":0.13},{"s":8,"t":38,"a":0.06},{"s":8,"t":41,"a":0.03},{"s":8,"t":46,"a":0.015},{"s":8,"t":55,"a":0.008},{"s":8,"t":65,"a":0.004},
{"s":9,"t":-190,"a":0.008},{"s":9,"t":-175,"a":0.012},{"s":9,"t":-162,"a":0.02},{"s":9,"t":-154,"a":0.025},{"s":9,"t":-146,"a":0.04},{"s":9,"t":-140,"a":0.045},{"s":9,"t":-134,"a":0.05},{"s":9,"t":-128,"a":0.045},{"s":9,"t":-120,"a":0.05},{"s":9,"t":-112,"a":0.06},{"s":9,"t":-106,"a":0.075},{"s":9,"t":-101,"a":0.08},{"s":9,"t":-97,"a":0.09},{"s":9,"t":-93,"a":0.08},{"s":9,"t":-88,"a":0.07},{"s":9,"t":-84,"a":0.055},{"s":9,"t":-79,"a":0.045},{"s":9,"t":-72,"a":0.03},{"s":9,"t":-64,"a":0.02},{"s":9,"t":-56,"a":0.015},{"s":9,"t":-48,"a":0.02},{"s":9,"t":-40,"a":0.025},{"s":9,"t":-34,"a":0.035},{"s":9,"t":-30,"a":0.04},{"s":9,"t":-27,"a":0.1},{"s":9,"t":-25,"a":0.14},{"s":9,"t":-23,"a":0.15},{"s":9,"t":-21,"a":0.13},{"s":9,"t":-18,"a":0.17},{"s":9,"t":-15,"a":0.22},{"s":9,"t":-12,"a":0.27},{"s":9,"t":-8,"a":0.32},{"s":9,"t":-4,"a":0.37},{"s":9,"t":0,"a":0.42},{"s":9,"t":4,"a":0.48},{"s":9,"t":8,"a":0.53},{"s":9,"t":12,"a":0.57},{"s":9,"t":16,"a":0.6},{"s":9,"t":20,"a":0.62},{"s":9,"t":24,"a":0.65},{"s":9,"t":27,"a":0.68},{"s":9,"t":29,"a":0.78},{"s":9,"t":31,"a":0.7},{"s":9,"t":33,"a":0.52},{"s":9,"t":35,"a":0.38},{"s":9,"t":37,"a":0.25},{"s":9,"t":39,"a":0.15},{"s":9,"t":42,"a":0.1},{"s":9,"t":47,"a":0.08},{"s":9,"t":54,"a":0.065},{"s":9,"t":60,"a":0.06}
]
},
"layer": [
{
 "data": {"name": "gray"},
 "mark": {"type": "line", "strokeWidth": 1.6, "opacity": 0.8, "clip": true},
 "encoding": {
  "x": {"field": "t", "type": "quantitative", "scale": {"domain": [-388, 97], "nice": false, "zero": false},
        "axis": {"values": [-350,-300,-250,-200,-150,-100,-50,0,50], "grid": true, "labelPadding": 10, "titlePadding": 4},
        "title": "Time to runway 19 threshold at K48i, s"},
  "y": {"field": "a", "type": "quantitative", "scale": {"domain": [0, 1.217], "nice": false, "zero": true},
        "axis": {"values": [0,0.2,0.4,0.6,0.8,1,1.2], "format": "~g", "grid": true, "labelPadding": 10, "titlePadding": 8},
        "title": "Area, km²"},
  "detail": {"field": "s", "type": "nominal"},
  "color": {"datum": "T_KF", "type": "nominal",
            "scale": {"domain": ["T", "T_KF"], "range": ["#0a0aff", "#6a6a6a"]},
            "legend": {"title": null, "orient": "none", "legendX": 21, "legendY": 11, "symbolType": "M-0.4,0H2.4", "symbolSize": 676, "symbolStrokeWidth": 3, "symbolFillColor": "transparent", "labelFontSize": 19, "labelFontStyle": "italic", "labelColor": "#111", "strokeColor": "#444", "fillColor": "white", "padding": 5, "rowPadding": 1, "labelOffset": 30}}
 }
},
{
 "data": {"name": "blue"},
 "mark": {"type": "line", "strokeWidth": 2.8, "clip": true},
 "encoding": {
  "x": {"field": "t", "type": "quantitative"},
  "y": {"field": "a", "type": "quantitative"},
  "detail": {"field": "s", "type": "nominal"},
  "color": {"datum": "T", "type": "nominal"}
 }
}
]
}
